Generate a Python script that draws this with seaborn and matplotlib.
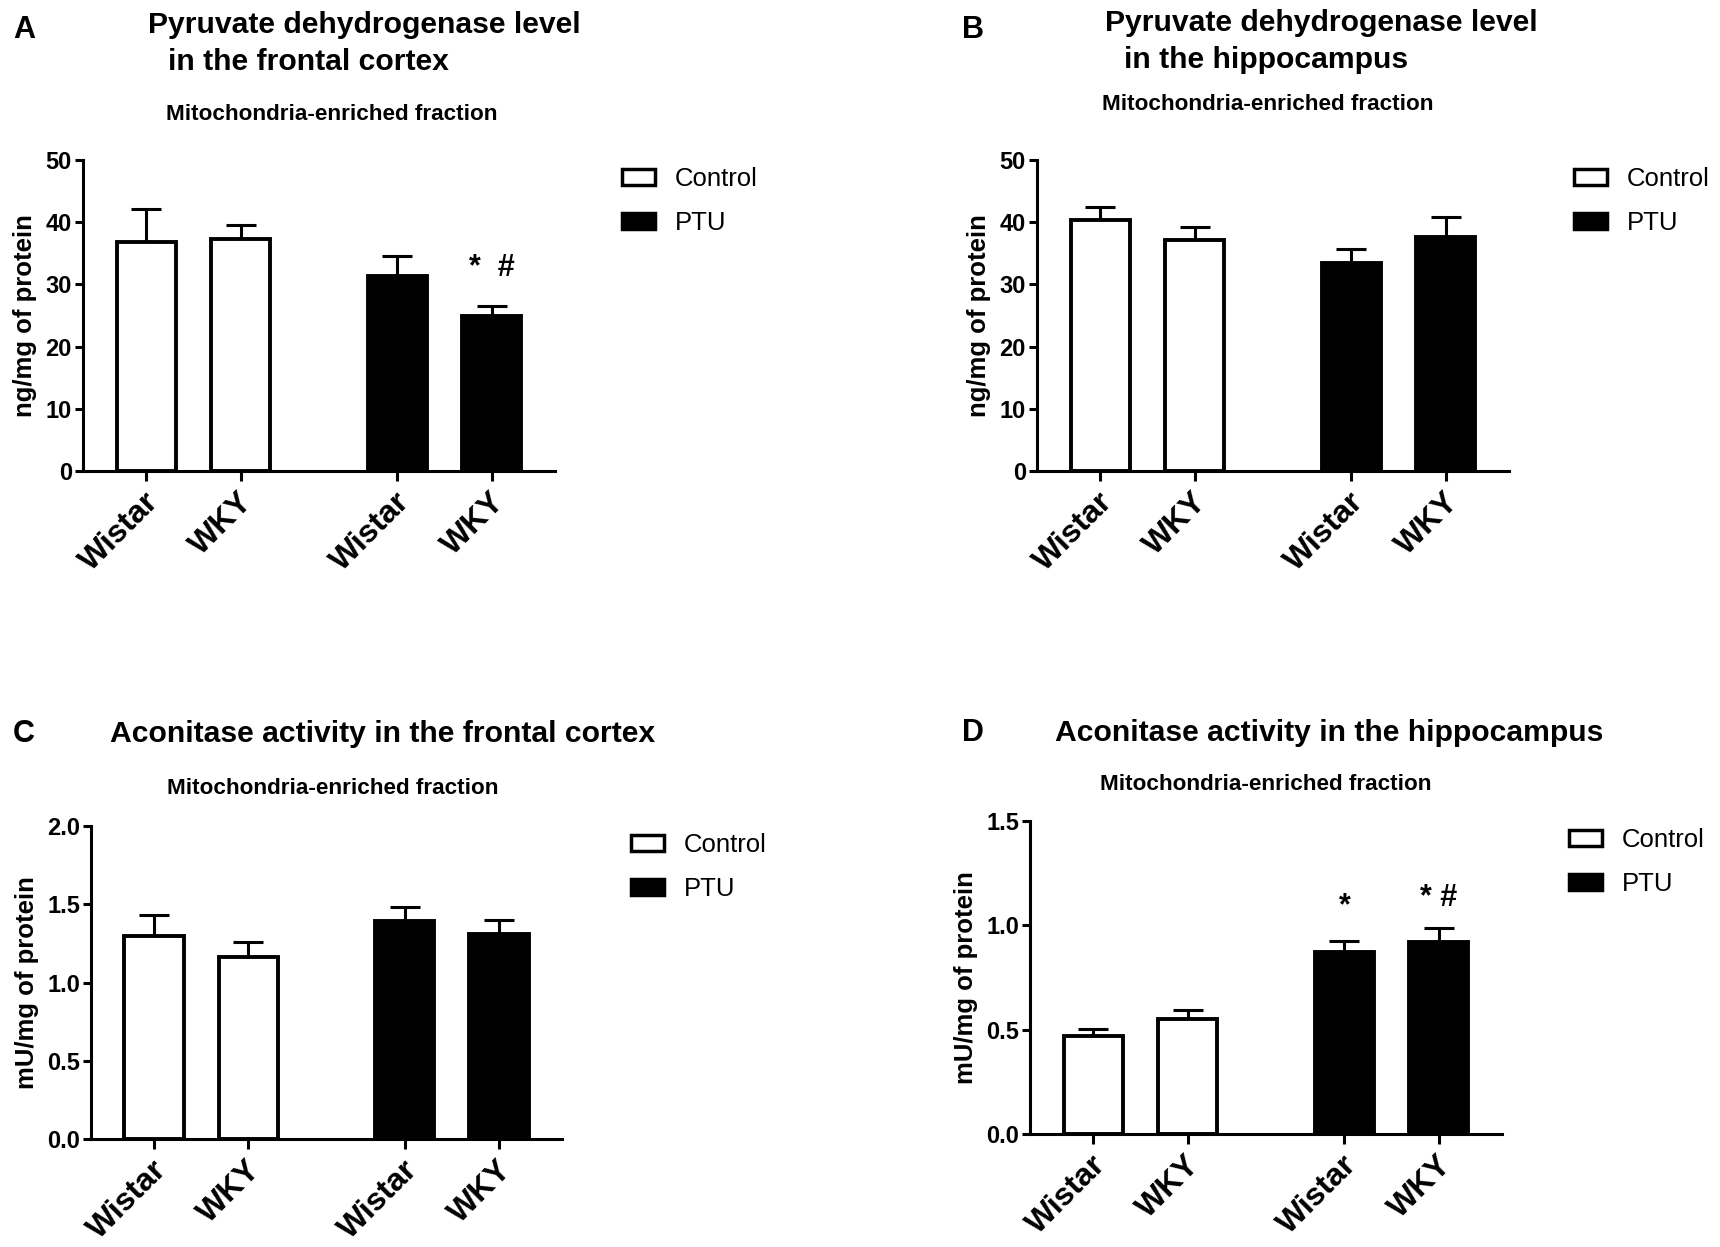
import numpy as np
import pandas as pd
import matplotlib
matplotlib.use("Agg")
import matplotlib.pyplot as plt
import seaborn as sns
from matplotlib.patches import Patch
from matplotlib.ticker import MultipleLocator, FormatStrFormatter
from matplotlib.transforms import ScaledTranslation

# --- data ---
groups = ["Control", "Control", "PTU", "PTU"]
strains = ["Wistar", "WKY", "Wistar", "WKY"]

pdh_fc_mean = [36.8, 37.3, 31.3, 24.9]
pdh_fc_err = [5.4, 2.3, 3.2, 1.6]

pdh_hc_mean = [40.3, 37.1, 33.4, 37.6]
pdh_hc_err = [2.2, 2.1, 2.3, 3.3]

aco_fc_mean = [1.30, 1.16, 1.39, 1.31]
aco_fc_err = [0.13, 0.10, 0.09, 0.09]

aco_hc_mean = [0.47, 0.55, 0.87, 0.92]
aco_hc_err = [0.035, 0.045, 0.055, 0.065]

# --- style ---
sns.set_style("ticks")
plt.rcParams["font.family"] = ["Liberation Sans", "DejaVu Sans"]
plt.rcParams["axes.linewidth"] = 2.2
for key in ["text.color", "axes.labelcolor", "xtick.color", "ytick.color", "axes.edgecolor"]:
    plt.rcParams[key] = "black"

W, H = 1720, 1247
fig = plt.figure(figsize=(W / 100, H / 100), dpi=100)

# bar positions: strain index inside a group + gap between groups
group_gap = 2.66
strain_idx = [0, 1, 0, 1]
group_idx = [0, 0, 1, 1]
pos = [s + g * group_gap for s, g in zip(strain_idx, group_idx)]


def fx(px):
    return px / W


def fy(py):
    return 1 - py / H


def draw_panel(rect, mean, err, ymax, step, fmt, ylabel):
    ax = fig.add_axes([fx(rect[0]), fy(rect[3]), fx(rect[1] - rect[0]), (rect[3] - rect[2]) / H])
    df = pd.DataFrame({"pos": pos, "group": groups, "value": mean})
    sns.barplot(data=df, x="pos", y="value", hue="group", native_scale=True, dodge=False,
                palette={"Control": "white", "PTU": "black"}, edgecolor="black",
                linewidth=2.8, width=0.63, errorbar=None, legend=False, ax=ax)
    ax.errorbar(pos, mean, yerr=[np.zeros(len(err)), err], fmt="none", ecolor="black",
                elinewidth=2.2, capsize=11, capthick=2.2, zorder=0.5)
    ax.set_xlim(-0.67, 4.33)
    ax.set_ylim(0, ymax)
    ax.yaxis.set_major_locator(MultipleLocator(step))
    ax.yaxis.set_major_formatter(FormatStrFormatter(fmt))
    ax.tick_params(axis="x", length=7, width=2.2, pad=9)
    ax.tick_params(axis="y", length=6, width=2.2, pad=2, labelsize=17)
    ax.set_xticks(pos)
    ax.set_xticklabels(strains, rotation=45, ha="right", va="center", rotation_mode="anchor",
                       fontsize=23, fontweight="bold")
    # nudge the rotated labels a little to the right and down (after tick_params)
    shift = ScaledTranslation(8 / 100, -4 / 100, fig.dpi_scale_trans)
    for t in ax.get_xticklabels():
        t.set_transform(t.get_transform() + shift)
    for t in ax.get_yticklabels():
        t.set_fontweight("bold")
    ax.set_xlabel("")
    ax.set_ylabel(ylabel, fontsize=18.5, fontweight="bold", labelpad=6)
    sns.despine(ax=ax)
    return ax


axA = draw_panel((83, 555, 160, 471), pdh_fc_mean, pdh_fc_err, 50, 10, "%d", "ng/mg of protein")
axB = draw_panel((1037, 1509, 160, 471), pdh_hc_mean, pdh_hc_err, 50, 10, "%d", "ng/mg of protein")
axC = draw_panel((91, 562, 826, 1139), aco_fc_mean, aco_fc_err, 2.0, 0.5, "%.1f", "mU/mg of protein")
axD = draw_panel((1030, 1502, 821, 1134), aco_hc_mean, aco_hc_err, 1.5, 0.5, "%.1f", "mU/mg of protein")

# significance marks
axA.text(pos[3], 32.6, "*  #", ha="center", va="center", fontsize=22, fontweight="bold")
axD.text(pos[2], 1.09, "*", ha="center", va="center", fontsize=22, fontweight="bold")
axD.text(pos[3], 1.13, "* #", ha="center", va="center", fontsize=22, fontweight="bold")

# panel letters
for letter, x, y in [("A", 13, 30), ("B", 962, 30), ("C", 13, 734), ("D", 962, 733)]:
    fig.text(fx(x), fy(y), letter, ha="left", va="center", fontsize=22, fontweight="bold")

# titles
title_kw = dict(ha="left", va="center", fontsize=21.7, fontweight="bold")
fig.text(fx(148), fy(25), "Pyruvate dehydrogenase level", **title_kw)
fig.text(fx(168), fy(62), "in the frontal cortex", **title_kw)
fig.text(fx(1105), fy(23), "Pyruvate dehydrogenase level", **title_kw)
fig.text(fx(1124), fy(60), "in the hippocampus", **title_kw)
fig.text(fx(110), fy(734), "Aconitase activity in the frontal cortex", **title_kw)
fig.text(fx(1055), fy(733), "Aconitase activity in the hippocampus", **title_kw)

sub_kw = dict(ha="center", va="center", fontsize=16.2, fontweight="bold")
for x, y in [(332, 115), (1268, 105), (333, 789), (1266, 785)]:
    fig.text(fx(x), fy(y), "Mitochondria-enriched fraction", **sub_kw)

# legends
handles = [Patch(facecolor="white", edgecolor="black", linewidth=2.5, label="Control"),
           Patch(facecolor="black", edgecolor="black", linewidth=2.5, label="PTU")]
for x, y in [(622, 167), (1574, 167), (631, 833), (1569, 828)]:
    fig.legend(handles=handles, loc="upper left", bbox_to_anchor=(fx(x), fy(y)),
               frameon=False, fontsize=18.5, borderpad=0, borderaxespad=0,
               handlelength=1.3, handleheight=0.6, handletextpad=0.75, labelspacing=0.78)

fig.savefig("out.png", dpi=100)
